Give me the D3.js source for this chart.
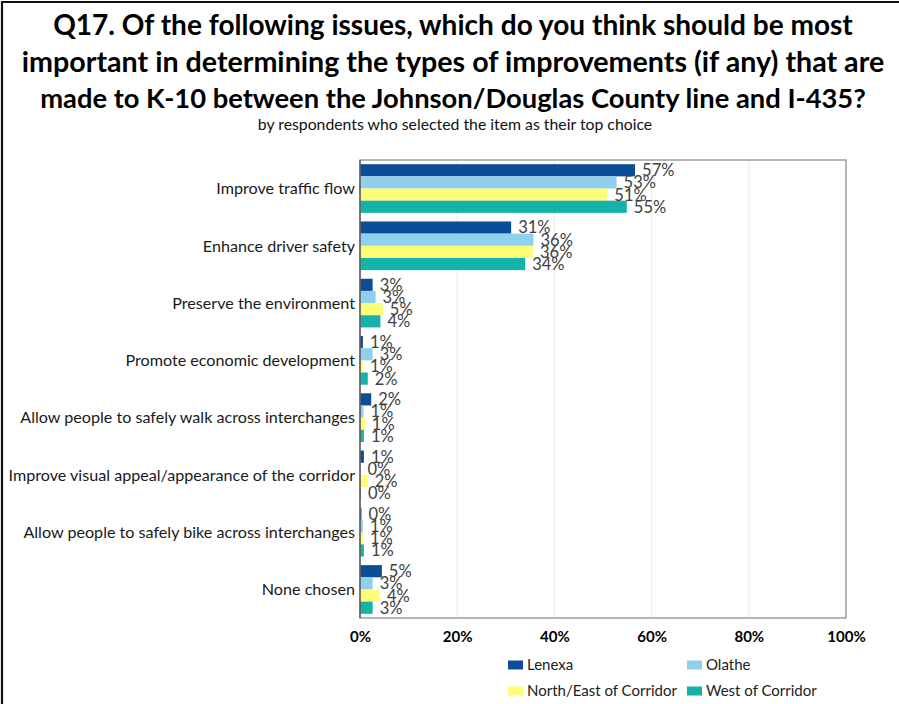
<!DOCTYPE html>
<html>
<head>
<meta charset="utf-8">
<script src="https://cdn.jsdelivr.net/npm/d3@7"></script>
<style>
html,body{margin:0;padding:0;background:#fff;}
svg{display:block;}
</style>
</head>
<body>
<svg id="chart" width="899" height="704"></svg>
<script>
const titleLines = [
  "Q17. Of the following issues, which do you think should be most",
  "important in determining the types of improvements (if any) that are",
  "made to K-10 between the Johnson/Douglas County line and I-435?"
];
const subtitle = "by respondents who selected the item as their top choice";
const categories = [
  "Improve traffic flow",
  "Enhance driver safety",
  "Preserve the environment",
  "Promote economic development",
  "Allow people to safely walk across interchanges",
  "Improve visual appeal/appearance of the corridor",
  "Allow people to safely bike across interchanges",
  "None chosen"
];
const seriesNames = ["Lenexa", "Olathe", "North/East of Corridor", "West of Corridor"];
const lenexa    = [56.6, 31.1, 2.6, 0.6, 2.3, 0.8, 0.3, 4.5];
const olathe    = [52.8, 35.7, 3.2, 2.6, 0.7, 0.1, 0.6, 2.6];
const northEast = [50.9, 35.6, 4.7, 0.6, 1.0, 1.6, 0.6, 4.1];
const west      = [54.9, 34.0, 4.2, 1.6, 0.8, 0.2, 0.8, 2.6];
const xTicks = [0, 20, 40, 60, 80, 100];
const colors = ["#0d4c96", "#8fd0ef", "#fdfd78", "#14b2a8"];

const seriesValues = [lenexa, olathe, northEast, west];
const FONT = "Lato, 'Open Sans', sans-serif";
const svg = d3.select("#chart");

function fitWidth(sel, target) {
  const w = sel.node().getComputedTextLength();
  const fs = parseFloat(sel.attr("font-size"));
  sel.attr("font-size", fs * target / w);
  return fs * target / w;
}

// outer frame
svg.append("path").attr("d", "M2,704 L2,2 L899,2")
  .attr("fill", "none").attr("stroke", "#111").attr("stroke-width", 2.2);

// title
const titleY = [35, 72, 108];
const titleW = [800, 863, 826];
titleLines.forEach((t, i) => {
  const s = svg.append("text").attr("x", 453).attr("y", titleY[i])
    .attr("text-anchor", "middle").attr("font-family", FONT)
    .attr("font-weight", "bold").attr("font-size", 26).attr("fill", "#000").text(t);
  fitWidth(s, titleW[i]);
});
const sub = svg.append("text").attr("x", 455).attr("y", 130)
  .attr("text-anchor", "middle").attr("font-family", FONT)
  .attr("font-size", 13).attr("fill", "#111").text(subtitle);
fitWidth(sub, 395);

// scales
const margin = {left: 360, right: 846, top: 160, bottom: 618};
const x = d3.scaleLinear().domain([0, 100]).range([margin.left, margin.right]);
const y0 = d3.scaleBand().domain(categories).range([margin.top, margin.bottom])
  .paddingInner(0.15).paddingOuter(0.073);
const y1 = d3.scaleBand().domain(seriesNames).range([0, y0.bandwidth()]);

// gridlines
svg.append("g").selectAll("line").data(xTicks.slice(1, -1)).join("line")
  .attr("x1", d => x(d)).attr("x2", d => x(d))
  .attr("y1", margin.top).attr("y2", margin.bottom)
  .attr("stroke", "#f0f0f0").attr("stroke-width", 1.5);

// bars
const rows = [];
categories.forEach((c, ci) => {
  seriesNames.forEach((s, si) => rows.push({cat: c, ser: s, si, v: seriesValues[si][ci]}));
});
svg.append("g").selectAll("rect").data(rows).join("rect")
  .attr("x", x(0))
  .attr("y", d => y0(d.cat) + y1(d.ser))
  .attr("width", d => x(d.v) - x(0))
  .attr("height", y1.bandwidth())
  .attr("fill", d => colors[d.si]);

// value labels
svg.append("g").selectAll("text").data(rows).join("text")
  .attr("x", d => x(d.v) + 7)
  .attr("y", d => y0(d.cat) + y1(d.ser) + y1.bandwidth() / 2)
  .attr("dy", "0.36em")
  .attr("font-family", FONT).attr("font-size", 16.5).attr("fill", "#404040")
  .text(d => Math.round(d.v) + "%");

// plot frame
svg.append("rect").attr("x", margin.left).attr("y", margin.top)
  .attr("width", margin.right - margin.left).attr("height", margin.bottom - margin.top)
  .attr("fill", "none").attr("stroke", "#868686").attr("stroke-width", 1.2);
svg.append("line").attr("x1", margin.left).attr("x2", margin.left)
  .attr("y1", margin.top).attr("y2", margin.bottom)
  .attr("stroke", "#555").attr("stroke-width", 1.3);

// category labels
const catG = svg.append("g");
const catTexts = catG.selectAll("text").data(categories).join("text")
  .attr("x", 355).attr("y", d => y0(d) + y0.bandwidth() / 2)
  .attr("dy", "0.36em").attr("text-anchor", "end")
  .attr("font-family", FONT).attr("font-size", 14).attr("fill", "#1a1a1a")
  .text(d => d);
const longest = catTexts.filter(d => d === categories[5]);
const fs = fitWidth(longest, 347);
catTexts.attr("font-size", fs);

// x axis
const xAxis = d3.axisBottom(x).tickValues(xTicks).tickSize(0).tickFormat(d => d + "%");
const ax = svg.append("g").attr("transform", `translate(0,${margin.bottom + 10})`).call(xAxis);
ax.select(".domain").remove();
ax.selectAll("text").attr("font-family", FONT).attr("font-size", 15)
  .attr("font-weight", "bold").attr("fill", "#000");

// legend
const legPos = [[508, 665], [687, 665], [508, 691], [687, 691]];
const leg = svg.append("g");
seriesNames.forEach((s, i) => {
  const [lx, ly] = legPos[i];
  leg.append("rect").attr("x", lx).attr("y", ly - 4.5).attr("width", 15).attr("height", 9)
    .attr("fill", colors[i]);
  leg.append("text").attr("x", lx + 19).attr("y", ly).attr("dy", "0.36em")
    .attr("font-family", FONT).attr("font-size", 15).attr("fill", "#222").text(s);
});
</script>
</body>
</html>
